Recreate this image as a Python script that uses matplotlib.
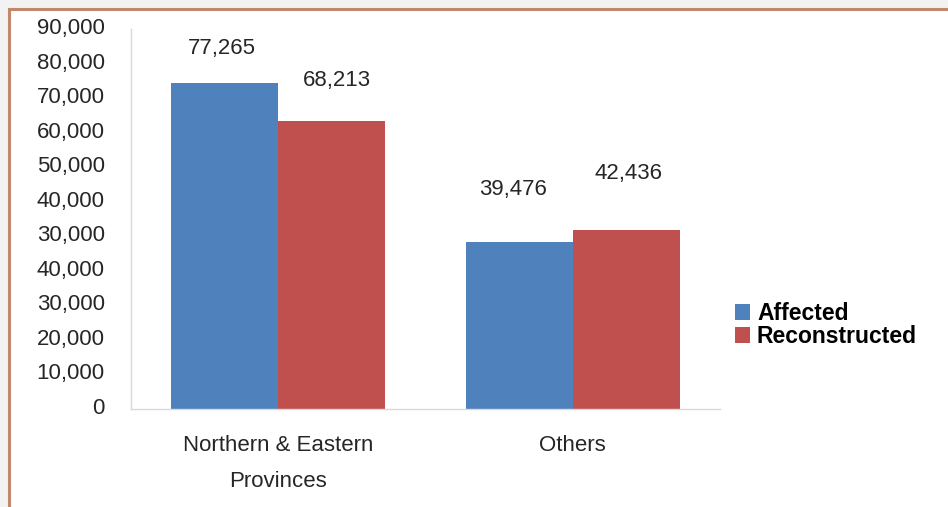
import numpy as np
import matplotlib
matplotlib.use("Agg")
import matplotlib.pyplot as plt
from matplotlib.patches import Rectangle
from matplotlib.lines import Line2D
from matplotlib.transforms import ScaledTranslation

categories = ["Northern & Eastern\nProvinces", "Others"]
affected = [77265, 39476]
reconstructed = [68213, 42436]
series_names = ["Affected", "Reconstructed"]
# the source chart shows these (odd) labels on 12 evenly spaced ticks from 0 to 90,000
ytick_labels = ["0", "10,000", "20,000", "30,000", "40,000", "30,000",
                "40,000", "50,000", "60,000", "70,000", "80,000", "90,000"]

BLUE = "#4F81BD"
RED = "#C0504D"
BORDER = "#C3876C"
TEXT = "#262626"
NUM_FONT = ["Liberation Sans Narrow", "Liberation Sans", "DejaVu Sans"]

W, H = 948, 507
fig = plt.figure(figsize=(W / 100, H / 100), dpi=100, facecolor="#f2f2f2")

# white page with the orange-brown frame on top and left
fig.patches.append(Rectangle((9 / W, 0), 1, 1 - 9 / H, transform=fig.transFigure,
                             facecolor="white", edgecolor="none", zorder=-5))
fig.lines.append(Line2D([8.5 / W, 1], [1 - 8.5 / H] * 2, transform=fig.transFigure,
                        color=BORDER, lw=2.2, zorder=-4))
fig.lines.append(Line2D([8.5 / W] * 2, [0, 1 - 8.5 / H], transform=fig.transFigure,
                        color=BORDER, lw=2.2, zorder=-4))

ax = fig.add_axes([131 / W, 1 - 409 / H, (720 - 131) / W, (409 - 29) / H])
ax.set_facecolor("none")

x = np.arange(len(categories))
w = 0.363
b1 = ax.bar(x - w / 2, affected, w, color=BLUE, label=series_names[0], zorder=2)
b2 = ax.bar(x + w / 2, reconstructed, w, color=RED, label=series_names[1], zorder=2)

ax.set_xlim(-0.5, 1.5)
ax.set_ylim(0, 90000)
ax.set_yticks(np.linspace(0, 90000, len(ytick_labels)))
ax.set_yticklabels(ytick_labels)
ax.set_xticks(x)
ax.set_xticklabels(categories, linespacing=1.9)

ax.tick_params(axis="y", length=0, pad=19)
ax.tick_params(axis="x", length=0, pad=19)

up = ScaledTranslation(0, 3 / 100, fig.dpi_scale_trans)
for lab in ax.get_yticklabels():
    lab.set_transform(lab.get_transform() + up)
for lab in ax.get_yticklabels() + ax.get_xticklabels():
    lab.set_family(NUM_FONT)
    lab.set_fontsize(16)
    lab.set_color(TEXT)

for s in ["top", "right"]:
    ax.spines[s].set_visible(False)
for s in ["left", "bottom"]:
    ax.spines[s].set_color("#D9D9D9")
    ax.spines[s].set_linewidth(1.0)

# value labels (offsets in pixels as placed in the source)
label_offsets = [(-3, 34), (5, 40), (-6, 53), (2, 56)]
bars = [b1[0], b2[0], b1[1], b2[1]]
for bar, (dx, dy) in zip(bars, label_offsets):
    v = bar.get_height()
    ax.annotate(f"{v:,.0f}", (bar.get_x() + bar.get_width() / 2, v),
                xytext=(dx, dy), textcoords="offset pixels",
                ha="center", va="center", fontsize=16, color=TEXT,
                family=NUM_FONT)

leg = fig.legend(handles=[b1, b2], loc="upper left",
                 bbox_to_anchor=(735 / W, 1 - 302 / H), frameon=False,
                 prop={"family": ["Liberation Sans", "DejaVu Sans"],
                       "weight": "bold", "size": 16.5},
                 handlelength=0.66, handleheight=0.66, handletextpad=0.3,
                 labelspacing=0.0, borderpad=0, borderaxespad=0)
for t in leg.get_texts():
    t.set_color("black")

fig.savefig("out.png", dpi=100, facecolor=fig.get_facecolor())
